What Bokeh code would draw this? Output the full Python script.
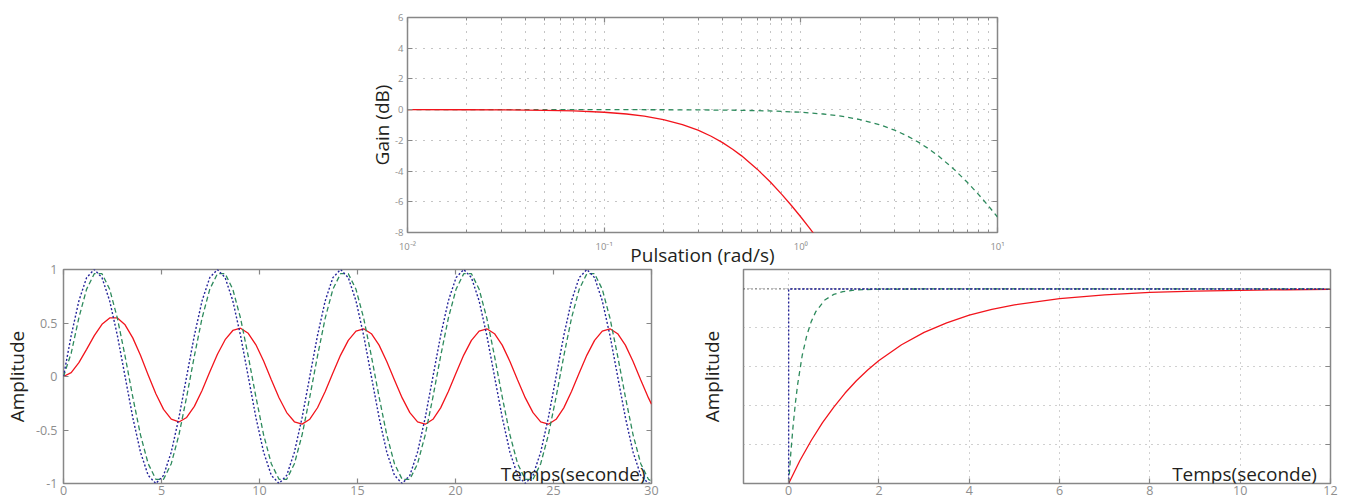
from bokeh.plotting import figure
from bokeh.layouts import column, row
from bokeh.models import Spacer, FixedTicker, LinearAxis, LogAxis, Label, CustomJSTickFormatter
from bokeh.embed import file_html
from bokeh.resources import INLINE

# ---------------- Bode magnitude (top) ----------------
bode_w_slow = [0.01, 0.02, 0.03, 0.05, 0.07, 0.1, 0.13, 0.16, 0.2, 0.25, 0.3, 0.35, 0.4, 0.45,
               0.5, 0.6, 0.7, 0.8, 0.9, 1.0, 1.1, 1.2]
bode_gain_slow = [-0.002, -0.007, -0.016, -0.043, -0.084, -0.170, -0.284, -0.423, -0.645, -0.969,
                  -1.335, -1.732, -2.148, -2.577, -3.010, -3.874, -4.713, -5.515, -6.274, -6.990,
                  -7.664, -8.300]
bode_w_fast = [0.01, 0.1, 0.2, 0.3, 0.5, 0.7, 1.0, 1.3, 1.6, 2.0, 2.5, 3.0, 3.5, 4.0, 4.5, 5.0,
               6.0, 7.0, 8.0, 9.0, 10.0]
bode_gain_fast = [0.0, -0.002, -0.007, -0.016, -0.043, -0.084, -0.170, -0.284, -0.423, -0.645,
                  -0.969, -1.335, -1.732, -2.148, -2.577, -3.010, -3.874, -4.713, -5.515, -6.274,
                  -6.990]
bode_x_ticks = [0.01, 0.1, 1.0, 10.0]
bode_x_labels = ["10⁻²", "10⁻¹", "10⁰", "10¹"]
bode_minor_mult = [2, 3, 4, 5, 6, 7, 8, 9]
bode_y_ticks = [-8, -6, -4, -2, 0, 2, 4, 6]
bode_y_labels = ["-8", "-6", "-4", "-2", "0", "2", "4", "6"]

# ---------------- sine response (bottom left) ----------------
sine_t = [0.0, 0.393, 0.785, 1.178, 1.571, 1.963, 2.356, 2.749, 3.142, 3.534, 3.927, 4.320,
          4.712, 5.105, 5.498, 5.890, 6.283, 6.676, 7.069, 7.461, 7.854, 8.247, 8.639, 9.032,
          9.425, 9.817, 10.210, 10.603, 10.996, 11.388, 11.781, 12.174, 12.566, 12.959, 13.352,
          13.744, 14.137, 14.530, 14.923, 15.315, 15.708, 16.101, 16.493, 16.886, 17.279, 17.671,
          18.064, 18.457, 18.850, 19.242, 19.635, 20.028, 20.420, 20.813, 21.206, 21.598, 21.991,
          22.384, 22.777, 23.169, 23.562, 23.955, 24.347, 24.740, 25.133, 25.525, 25.918, 26.311,
          26.704, 27.096, 27.489, 27.882, 28.274, 28.667, 29.060, 29.452, 29.845, 30.0]
sine_input = [0.0, 0.383, 0.707, 0.924, 1.0, 0.924, 0.707, 0.383, 0.0, -0.383, -0.707, -0.924, -1.0, -0.924, -0.707, -0.383,
              0.0, 0.383, 0.707, 0.924, 1.0, 0.924, 0.707, 0.383, 0.0, -0.383, -0.707, -0.924, -1.0, -0.924, -0.707, -0.383,
              0.0, 0.383, 0.707, 0.924, 1.0, 0.924, 0.707, 0.383, 0.0, -0.383, -0.707, -0.924, -1.0, -0.924, -0.707, -0.383,
              0.0, 0.383, 0.707, 0.924, 1.0, 0.924, 0.707, 0.383, 0.0, -0.383, -0.707, -0.924, -1.0, -0.924, -0.707, -0.383,
              0.0, 0.383, 0.707, 0.924, 1.0, 0.924, 0.707, 0.383, 0.0, -0.383, -0.707, -0.924, -1.0, -0.988]
sine_fast = [0.0, 0.218, 0.549, 0.816, 0.961, 0.961, 0.815, 0.545, 0.191, -0.191, -0.545, -0.815, -0.961, -0.961, -0.815, -0.545,
             -0.191, 0.191, 0.545, 0.815, 0.961, 0.961, 0.815, 0.545, 0.191, -0.191, -0.545, -0.815, -0.961, -0.961, -0.815, -0.545,
             -0.191, 0.191, 0.545, 0.815, 0.961, 0.961, 0.815, 0.545, 0.191, -0.191, -0.545, -0.815, -0.961, -0.961, -0.815, -0.545,
             -0.191, 0.191, 0.545, 0.815, 0.961, 0.961, 0.815, 0.545, 0.191, -0.191, -0.545, -0.815, -0.961, -0.961, -0.815, -0.545,
             -0.191, 0.191, 0.545, 0.815, 0.961, 0.961, 0.815, 0.545, 0.191, -0.191, -0.545, -0.815, -0.961, -0.979]
sine_slow = [0.0, 0.036, 0.129, 0.254, 0.382, 0.488, 0.547, 0.547, 0.483, 0.361, 0.198, 0.014, -0.162, -0.307, -0.399, -0.425,
             -0.383, -0.279, -0.130, 0.041, 0.208, 0.344, 0.430, 0.451, 0.404, 0.296, 0.144, -0.030, -0.198, -0.337, -0.423, -0.445,
             -0.399, -0.292, -0.141, 0.032, 0.200, 0.338, 0.424, 0.446, 0.400, 0.293, 0.141, -0.032, -0.200, -0.338, -0.424, -0.446,
             -0.400, -0.293, -0.141, 0.032, 0.200, 0.338, 0.424, 0.446, 0.400, 0.293, 0.141, -0.032, -0.200, -0.338, -0.424, -0.446,
             -0.400, -0.293, -0.141, 0.032, 0.200, 0.338, 0.424, 0.446, 0.400, 0.293, 0.141, -0.032, -0.200, -0.259]
sine_x_ticks = [0, 5, 10, 15, 20, 25, 30]
sine_x_labels = ["0", "5", "10", "15", "20", "25", "30"]
sine_y_ticks = [-1, -0.5, 0, 0.5, 1]
sine_y_labels = ["-1", "-0.5", "0", "0.5", "1"]

# ---------------- step response (bottom right) ----------------
step_t_slow = [0, 0.25, 0.5, 0.75, 1, 1.25, 1.5, 1.75, 2, 2.5, 3, 3.5, 4, 4.5, 5, 6, 7, 8, 9, 10, 11, 12]
step_slow = [0.0, 0.118, 0.221, 0.313, 0.393, 0.465, 0.528, 0.583, 0.632, 0.713, 0.777, 0.826, 0.865,
             0.895, 0.918, 0.950, 0.970, 0.982, 0.989, 0.993, 0.996, 0.998]
step_t_fast = [0, 0.05, 0.1, 0.15, 0.2, 0.3, 0.4, 0.5, 0.6, 0.8, 1.0, 1.2, 1.5, 2.0, 3.0, 12.0]
step_fast = [0.0, 0.164, 0.300, 0.415, 0.511, 0.658, 0.760, 0.832, 0.883, 0.943, 0.972, 0.986, 0.995,
             0.999, 1.0, 1.0]
step_in_t = [0, 0, 12]
step_in = [0, 1, 1]
step_ref_t = [-1, 12]
step_ref = [1, 1]
step_x_ticks = [0, 2, 4, 6, 8, 10, 12]
step_x_labels = ["0", "2", "4", "6", "8", "10", "12"]
step_y_ticks = [0, 0.2, 0.4, 0.6, 0.8, 1.0]

# ---------------- styles ----------------
FONT = "Open Sans"
FRAME = "#878787"
TICK_TXT = "#8e8e8e"
DARK = "#231f20"
RED = "#f2141c"
GREEN = "#2d8a5c"
BLUE = "#25259a"
GRID = "#8a8a8a"
LABEL_SIZE = "19px"


def blank():
    return CustomJSTickFormatter(code="return ''")


def style_axis(ax, size, standoff, minor=False):
    ax.axis_line_color = None
    ax.major_tick_in = 5
    ax.major_tick_out = 0
    ax.major_tick_line_color = FRAME
    ax.major_tick_line_width = 1.2
    if minor:
        ax.minor_tick_in = 3
        ax.minor_tick_out = 0
        ax.minor_tick_line_color = FRAME
    else:
        ax.minor_tick_line_color = None
    ax.major_label_text_font = FONT
    ax.major_label_text_font_size = size
    ax.major_label_text_color = TICK_TXT
    ax.major_label_standoff = standoff
    ax.axis_label_text_font = FONT
    ax.axis_label_text_font_size = LABEL_SIZE
    ax.axis_label_text_font_style = "normal"
    ax.axis_label_text_color = DARK


def mirror(p, cls, side, ticker, minor=False):
    ax = cls(ticker=ticker, formatter=blank())
    style_axis(ax, "0px", 0, minor)
    p.add_layout(ax, side)


def base(p, transparent=False):
    p.outline_line_color = FRAME
    p.outline_line_width = 1.5
    p.background_fill_color = "white"
    p.border_fill_color = "white"
    if transparent:
        p.border_fill_alpha = 0
    p.xgrid.grid_line_color = None
    p.ygrid.grid_line_color = None


# ---------------- top: Bode ----------------
bode_minor = [m * d for d in bode_x_ticks[:-1] for m in bode_minor_mult]
bx = FixedTicker(ticks=bode_x_ticks, minor_ticks=bode_minor)
by = FixedTicker(ticks=bode_y_ticks)

p_top = figure(width=675, height=272, x_axis_type="log", x_range=(0.01, 10), y_range=(-8, 6),
               output_backend="svg", toolbar_location=None,
               min_border_left=70, min_border_right=15, min_border_top=17, min_border_bottom=40)
base(p_top)
axb = p_top.xaxis[0]
axl = p_top.yaxis[0]
axb.ticker = bx
axl.ticker = by
style_axis(axb, "9.5px", 7, minor=True)
style_axis(axl, "9.5px", 4)
axb.major_label_overrides = dict(zip(bode_x_ticks, bode_x_labels))
axl.major_label_overrides = dict(zip(bode_y_ticks, bode_y_labels))
axb.axis_label = "Pulsation (rad/s)"
axb.axis_label_standoff = -14
axl.axis_label = "Gain (dB)"
axl.axis_label_standoff = -3
p_top.xgrid.ticker = bx
p_top.ygrid.ticker = by
p_top.xgrid.grid_line_color = GRID
p_top.xgrid.grid_line_dash = "1 7"
p_top.xgrid.minor_grid_line_color = GRID
p_top.xgrid.minor_grid_line_dash = "1 7"
p_top.ygrid.grid_line_color = GRID
p_top.ygrid.grid_line_dash = "1 7"
mirror(p_top, LogAxis, "above", FixedTicker(ticks=bode_x_ticks, minor_ticks=bode_minor), minor=True)
mirror(p_top, LinearAxis, "right", FixedTicker(ticks=bode_y_ticks))

p_top.line(bode_w_fast, bode_gain_fast, line_color=GREEN, line_width=1.3, line_dash="5 4")
p_top.line(bode_w_slow, bode_gain_slow, line_color=RED, line_width=1.3)

# ---------------- bottom left: sine ----------------
sx = FixedTicker(ticks=sine_x_ticks)
sy = FixedTicker(ticks=sine_y_ticks)
p_sine = figure(width=661, height=241, x_range=(0, 30), y_range=(-1, 1),
                output_backend="svg", toolbar_location=None,
                min_border_left=63, min_border_right=10, min_border_top=7, min_border_bottom=20)
base(p_sine, transparent=True)
sb = p_sine.xaxis[0]
sl = p_sine.yaxis[0]
sb.ticker = sx
sl.ticker = sy
style_axis(sb, "12.5px", 2)
style_axis(sl, "12.5px", 6)
sb.major_label_overrides = dict(zip(sine_x_ticks, sine_x_labels))
sl.major_label_overrides = dict(zip(sine_y_ticks, sine_y_labels))
sl.axis_label = "Amplitude"
sl.axis_label_standoff = 3
mirror(p_sine, LinearAxis, "above", FixedTicker(ticks=sine_x_ticks))
mirror(p_sine, LinearAxis, "right", FixedTicker(ticks=sine_y_ticks))

p_sine.line(sine_t, sine_slow, line_color=RED, line_width=1.3)
p_sine.line(sine_t, sine_fast, line_color=GREEN, line_width=1.3, line_dash="5 3")
p_sine.line(sine_t, sine_input, line_color=BLUE, line_width=1.4, line_dash="2 2")
p_sine.add_layout(Label(x=29.7, y=-0.91, text="Temps(seconde)", text_align="right",
                        text_baseline="alphabetic", text_font=FONT, text_font_size=LABEL_SIZE,
                        text_color=DARK))

# ---------------- bottom right: step ----------------
tx = FixedTicker(ticks=step_x_ticks)
ty = FixedTicker(ticks=step_y_ticks)
p_step = figure(width=650, height=241, x_range=(-1, 12), y_range=(0, 1.1),
                output_backend="svg", toolbar_location=None,
                min_border_left=47, min_border_right=15, min_border_top=7, min_border_bottom=20)
base(p_step, transparent=True)
tb = p_step.xaxis[0]
tl = p_step.yaxis[0]
tb.ticker = tx
tl.ticker = ty
style_axis(tb, "12.5px", 2)
style_axis(tl, "0px", 0)
tl.major_tick_line_color = None
tl.formatter = blank()
tb.major_label_overrides = dict(zip(step_x_ticks, step_x_labels))
tl.axis_label = "Amplitude"
tl.axis_label_standoff = 19
p_step.xgrid.ticker = tx
p_step.ygrid.ticker = ty
p_step.xgrid.grid_line_color = "#a0a0a0"
p_step.xgrid.grid_line_dash = "1 5"
p_step.ygrid.grid_line_color = "#a0a0a0"
p_step.ygrid.grid_line_dash = "1 5"
mirror(p_step, LinearAxis, "right", FixedTicker(ticks=step_y_ticks))

p_step.line(step_ref_t, step_ref, line_color="black", line_width=1.0, line_dash="1 3")
p_step.line(step_t_slow, step_slow, line_color=RED, line_width=1.3)
p_step.line(step_t_fast, step_fast, line_color=GREEN, line_width=1.3, line_dash="5 4")
p_step.line(step_in_t, step_in, line_color=BLUE, line_width=1.4, line_dash="2 2")
p_step.add_layout(Label(x=11.7, y=0.05, text="Temps(seconde)", text_align="right",
                        text_baseline="alphabetic", text_font=FONT, text_font_size=LABEL_SIZE,
                        text_color=DARK))

top_row = row(Spacer(width=337, height=272), p_top)
bottom_row = row(p_sine, Spacer(width=34, height=241), p_step, margin=(-10, 0, 0, 0))
layout = column(top_row, bottom_row)

open("out.html", "w").write(file_html(layout, INLINE))
